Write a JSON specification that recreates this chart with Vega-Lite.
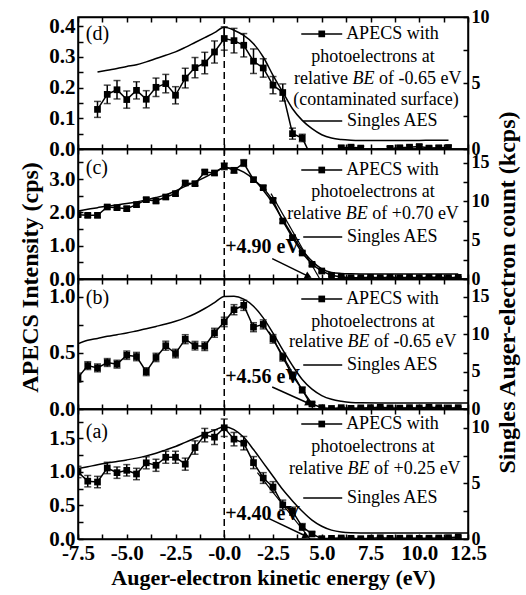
{
"$schema": "https://vega.github.io/schema/vega-lite/v6.json",
"background": "white",
"padding": {"left": 18, "top": 7, "right": 4, "bottom": 4},
"spacing": 0,
"bounds": "flush",
"config": {
  "font": "Liberation Serif",
  "view": {"stroke": "black", "strokeWidth": 1.5},
  "mark": {"font": "Liberation Serif"},
  "axis": {"grid": false, "domainColor": "black", "domainWidth": 1.5, "tickColor": "black", "tickWidth": 1.5, "tickSize": -5, "tickCount": 40,
    "labelFont": "Liberation Serif", "labelFontWeight": "bold", "labelFontSize": 21, "labelColor": "black", "labelPadding": 8,
    "labelFlush": false, "labelOverlap": false, "titleFont": "Liberation Serif", "titleFontWeight": "bold", "titleFontSize": 24, "titleColor": "black", "titlePadding": 6},
  "text": {"font": "Liberation Serif", "color": "black", "fontSize": 18, "baseline": "middle"}
},
"datasets": {
"apecs": [
{"panel":"d","x":-6.5,"v":0.129,"e":0.026},{"panel":"d","x":-6.0,"v":0.178,"e":0.03},{"panel":"d","x":-5.5,"v":0.193,"e":0.03},{"panel":"d","x":-5.0,"v":0.161,"e":0.028},{"panel":"d","x":-4.5,"v":0.191,"e":0.028},{"panel":"d","x":-4.0,"v":0.162,"e":0.028},{"panel":"d","x":-3.5,"v":0.201,"e":0.03},{"panel":"d","x":-3.0,"v":0.213,"e":0.03},{"panel":"d","x":-2.5,"v":0.175,"e":0.028},{"panel":"d","x":-2.0,"v":0.231,"e":0.032},{"panel":"d","x":-1.5,"v":0.265,"e":0.033},{"panel":"d","x":-1.0,"v":0.28,"e":0.035},{"panel":"d","x":-0.5,"v":0.316,"e":0.036},{"panel":"d","x":0.0,"v":0.36,"e":0.038},{"panel":"d","x":0.5,"v":0.353,"e":0.04},{"panel":"d","x":1.0,"v":0.338,"e":0.038},{"panel":"d","x":1.5,"v":0.286,"e":0.04},{"panel":"d","x":2.0,"v":0.264,"e":0.03},{"panel":"d","x":2.5,"v":0.208,"e":0.028},{"panel":"d","x":3.0,"v":0.184,"e":0.028},{"panel":"d","x":3.5,"v":0.05,"e":0.018},{"panel":"d","x":4.0,"v":0.036,"e":0.012},{"panel":"d","x":4.5,"v":-0.03,"e":0.01},{"panel":"d","x":5.0,"v":-0.025,"e":0.01},{"panel":"d","x":5.5,"v":-0.01,"e":0.006},{"panel":"d","x":6.0,"v":0.004,"e":0.006},{"panel":"d","x":6.5,"v":0.006,"e":0.006},{"panel":"d","x":7.0,"v":0.003,"e":0.006},{"panel":"d","x":7.5,"v":-0.01,"e":0.006},{"panel":"d","x":8.0,"v":-0.008,"e":0.006},{"panel":"d","x":8.5,"v":0.002,"e":0.006},{"panel":"d","x":9.0,"v":0.004,"e":0.006},{"panel":"d","x":9.5,"v":0.006,"e":0.006},{"panel":"d","x":10.0,"v":0.008,"e":0.006},{"panel":"d","x":10.5,"v":0.003,"e":0.006},{"panel":"d","x":11.0,"v":0.004,"e":0.006},{"panel":"d","x":11.5,"v":0.005,"e":0.006},
{"panel":"c","x":-7.5,"v":1.93,"e":0.06},{"panel":"c","x":-7.0,"v":1.91,"e":0.06},{"panel":"c","x":-6.5,"v":1.91,"e":0.06},{"panel":"c","x":-6.0,"v":2.16,"e":0.06},{"panel":"c","x":-5.5,"v":2.14,"e":0.06},{"panel":"c","x":-5.0,"v":2.11,"e":0.06},{"panel":"c","x":-4.5,"v":2.23,"e":0.06},{"panel":"c","x":-4.0,"v":2.38,"e":0.06},{"panel":"c","x":-3.5,"v":2.34,"e":0.06},{"panel":"c","x":-3.0,"v":2.46,"e":0.06},{"panel":"c","x":-2.5,"v":2.56,"e":0.06},{"panel":"c","x":-2.0,"v":2.88,"e":0.06},{"panel":"c","x":-1.5,"v":2.86,"e":0.06},{"panel":"c","x":-1.0,"v":3.21,"e":0.06},{"panel":"c","x":-0.5,"v":3.18,"e":0.06},{"panel":"c","x":0.0,"v":3.38,"e":0.1},{"panel":"c","x":0.5,"v":3.26,"e":0.08},{"panel":"c","x":1.0,"v":3.48,"e":0.1},{"panel":"c","x":1.5,"v":2.98,"e":0.06},{"panel":"c","x":2.0,"v":2.74,"e":0.06},{"panel":"c","x":2.5,"v":2.36,"e":0.06},{"panel":"c","x":3.0,"v":1.74,"e":0.06},{"panel":"c","x":3.5,"v":1.24,"e":0.06},{"panel":"c","x":4.0,"v":0.78,"e":0.05},{"panel":"c","x":4.5,"v":0.44,"e":0.05},{"panel":"c","x":5.0,"v":0.24,"e":0.04},{"panel":"c","x":5.5,"v":0.11,"e":0.03},{"panel":"c","x":6.0,"v":0.06,"e":0.02},{"panel":"c","x":6.5,"v":0.04,"e":0.02},{"panel":"c","x":7.0,"v":0.04,"e":0.02},{"panel":"c","x":7.5,"v":0.05,"e":0.02},{"panel":"c","x":8.0,"v":0.04,"e":0.02},{"panel":"c","x":8.5,"v":0.05,"e":0.02},{"panel":"c","x":9.0,"v":0.04,"e":0.02},{"panel":"c","x":9.5,"v":0.05,"e":0.02},{"panel":"c","x":10.0,"v":0.04,"e":0.02},{"panel":"c","x":10.5,"v":0.05,"e":0.02},{"panel":"c","x":11.0,"v":0.05,"e":0.02},{"panel":"c","x":11.5,"v":0.04,"e":0.02},{"panel":"c","x":12.0,"v":0.05,"e":0.02},
{"panel":"b","x":-7.5,"v":0.28,"e":0.04},{"panel":"b","x":-7.0,"v":0.387,"e":0.035},{"panel":"b","x":-6.5,"v":0.367,"e":0.035},{"panel":"b","x":-6.0,"v":0.415,"e":0.035},{"panel":"b","x":-5.5,"v":0.4,"e":0.035},{"panel":"b","x":-5.0,"v":0.48,"e":0.037},{"panel":"b","x":-4.5,"v":0.468,"e":0.037},{"panel":"b","x":-4.0,"v":0.333,"e":0.035},{"panel":"b","x":-3.5,"v":0.46,"e":0.037},{"panel":"b","x":-3.0,"v":0.565,"e":0.04},{"panel":"b","x":-2.5,"v":0.495,"e":0.038},{"panel":"b","x":-2.0,"v":0.623,"e":0.04},{"panel":"b","x":-1.5,"v":0.565,"e":0.038},{"panel":"b","x":-1.0,"v":0.56,"e":0.038},{"panel":"b","x":-0.5,"v":0.68,"e":0.04},{"panel":"b","x":0.0,"v":0.777,"e":0.042},{"panel":"b","x":0.5,"v":0.886,"e":0.045},{"panel":"b","x":1.0,"v":0.925,"e":0.045},{"panel":"b","x":1.5,"v":0.73,"e":0.04},{"panel":"b","x":2.0,"v":0.755,"e":0.04},{"panel":"b","x":2.5,"v":0.626,"e":0.038},{"panel":"b","x":3.0,"v":0.463,"e":0.035},{"panel":"b","x":3.5,"v":0.3,"e":0.03},{"panel":"b","x":4.0,"v":0.17,"e":0.025},{"panel":"b","x":4.5,"v":0.045,"e":0.015},{"panel":"b","x":5.0,"v":0.012,"e":0.01},{"panel":"b","x":5.5,"v":0.005,"e":0.008},{"panel":"b","x":6.0,"v":0.012,"e":0.008},{"panel":"b","x":6.5,"v":0.006,"e":0.008},{"panel":"b","x":7.0,"v":0.01,"e":0.008},{"panel":"b","x":7.5,"v":0.012,"e":0.008},{"panel":"b","x":8.0,"v":0.015,"e":0.008},{"panel":"b","x":8.5,"v":0.01,"e":0.008},{"panel":"b","x":9.0,"v":0.008,"e":0.008},{"panel":"b","x":9.5,"v":0.012,"e":0.008},{"panel":"b","x":10.0,"v":0.01,"e":0.008},{"panel":"b","x":10.5,"v":0.015,"e":0.008},{"panel":"b","x":11.0,"v":0.012,"e":0.008},{"panel":"b","x":11.5,"v":0.01,"e":0.008},{"panel":"b","x":12.0,"v":0.012,"e":0.008},
{"panel":"a","x":-7.5,"v":1.0,"e":0.085},{"panel":"a","x":-7.0,"v":0.863,"e":0.085},{"panel":"a","x":-6.5,"v":0.85,"e":0.085},{"panel":"a","x":-6.0,"v":1.06,"e":0.085},{"panel":"a","x":-5.5,"v":0.99,"e":0.085},{"panel":"a","x":-5.0,"v":1.025,"e":0.085},{"panel":"a","x":-4.5,"v":0.97,"e":0.085},{"panel":"a","x":-4.0,"v":1.137,"e":0.09},{"panel":"a","x":-3.5,"v":1.1,"e":0.09},{"panel":"a","x":-3.0,"v":1.22,"e":0.09},{"panel":"a","x":-2.5,"v":1.22,"e":0.09},{"panel":"a","x":-2.0,"v":1.117,"e":0.09},{"panel":"a","x":-1.5,"v":1.365,"e":0.1},{"panel":"a","x":-1.0,"v":1.55,"e":0.1},{"panel":"a","x":-0.5,"v":1.52,"e":0.11},{"panel":"a","x":0.0,"v":1.66,"e":0.13},{"panel":"a","x":0.5,"v":1.49,"e":0.1},{"panel":"a","x":1.0,"v":1.43,"e":0.1},{"panel":"a","x":1.5,"v":1.14,"e":0.09},{"panel":"a","x":2.0,"v":0.91,"e":0.08},{"panel":"a","x":2.5,"v":0.776,"e":0.08},{"panel":"a","x":3.0,"v":0.51,"e":0.07},{"panel":"a","x":3.5,"v":0.415,"e":0.06},{"panel":"a","x":4.0,"v":0.18,"e":0.05},{"panel":"a","x":4.5,"v":0.075,"e":0.03},{"panel":"a","x":5.0,"v":0.005,"e":0.02},{"panel":"a","x":5.5,"v":0.01,"e":0.015},{"panel":"a","x":6.0,"v":0.015,"e":0.015},{"panel":"a","x":6.5,"v":0.01,"e":0.015},{"panel":"a","x":7.0,"v":0.005,"e":0.015},{"panel":"a","x":7.5,"v":0.012,"e":0.015},{"panel":"a","x":8.0,"v":0.018,"e":0.015},{"panel":"a","x":8.5,"v":0.01,"e":0.015},{"panel":"a","x":9.0,"v":0.012,"e":0.015},{"panel":"a","x":9.5,"v":0.015,"e":0.015},{"panel":"a","x":10.0,"v":0.01,"e":0.015},{"panel":"a","x":10.5,"v":0.012,"e":0.015},{"panel":"a","x":11.0,"v":0.015,"e":0.015},{"panel":"a","x":11.5,"v":0.02,"e":0.015},{"panel":"a","x":12.0,"v":0.03,"e":0.015}
],
"aes": [
{"panel":"d","x":-6.5,"k":5.83},{"panel":"d","x":-6.0,"k":5.97},{"panel":"d","x":-5.5,"k":6.1},{"panel":"d","x":-5.0,"k":6.25},{"panel":"d","x":-4.5,"k":6.38},{"panel":"d","x":-4.0,"k":6.6},{"panel":"d","x":-3.5,"k":6.85},{"panel":"d","x":-3.0,"k":7.1},{"panel":"d","x":-2.5,"k":7.36},{"panel":"d","x":-2.0,"k":7.7},{"panel":"d","x":-1.5,"k":8.07},{"panel":"d","x":-1.0,"k":8.44},{"panel":"d","x":-0.5,"k":8.81},{"panel":"d","x":0.0,"k":9.22},{"panel":"d","x":0.5,"k":9.0},{"panel":"d","x":1.0,"k":8.6},{"panel":"d","x":1.5,"k":7.98},{"panel":"d","x":2.0,"k":6.97},{"panel":"d","x":2.5,"k":5.58},{"panel":"d","x":3.0,"k":4.32},{"panel":"d","x":3.5,"k":3.05},{"panel":"d","x":4.0,"k":2.17},{"panel":"d","x":4.5,"k":1.54},{"panel":"d","x":5.0,"k":1.08},{"panel":"d","x":5.5,"k":0.83},{"panel":"d","x":6.0,"k":0.72},{"panel":"d","x":6.5,"k":0.67},{"panel":"d","x":7.0,"k":0.65},{"panel":"d","x":8.0,"k":0.64},{"panel":"d","x":9.0,"k":0.64},{"panel":"d","x":10.0,"k":0.65},{"panel":"d","x":11.0,"k":0.66},{"panel":"d","x":11.5,"k":0.66},
{"panel":"c","x":-7.5,"k":8.75},{"panel":"c","x":-7.0,"k":9.0},{"panel":"c","x":-6.5,"k":9.2},{"panel":"c","x":-6.0,"k":9.4},{"panel":"c","x":-5.5,"k":9.55},{"panel":"c","x":-5.0,"k":9.72},{"panel":"c","x":-4.5,"k":9.93},{"panel":"c","x":-4.0,"k":10.2},{"panel":"c","x":-3.5,"k":10.5},{"panel":"c","x":-3.0,"k":10.85},{"panel":"c","x":-2.5,"k":11.35},{"panel":"c","x":-2.0,"k":11.95},{"panel":"c","x":-1.5,"k":12.5},{"panel":"c","x":-1.0,"k":13.1},{"panel":"c","x":-0.5,"k":13.75},{"panel":"c","x":0.0,"k":14.35},{"panel":"c","x":0.5,"k":14.25},{"panel":"c","x":1.0,"k":13.78},{"panel":"c","x":1.5,"k":12.85},{"panel":"c","x":2.0,"k":11.45},{"panel":"c","x":2.5,"k":9.75},{"panel":"c","x":3.0,"k":7.65},{"panel":"c","x":3.5,"k":5.6},{"panel":"c","x":4.0,"k":3.75},{"panel":"c","x":4.5,"k":2.3},{"panel":"c","x":5.0,"k":1.3},{"panel":"c","x":5.5,"k":0.85},{"panel":"c","x":6.0,"k":0.72},{"panel":"c","x":6.5,"k":0.67},{"panel":"c","x":7.0,"k":0.65},{"panel":"c","x":8.0,"k":0.65},{"panel":"c","x":9.0,"k":0.65},{"panel":"c","x":10.0,"k":0.65},{"panel":"c","x":11.0,"k":0.65},{"panel":"c","x":12.0,"k":0.65},
{"panel":"b","x":-7.5,"k":8.74},{"panel":"b","x":-7.0,"k":9.19},{"panel":"b","x":-6.5,"k":9.45},{"panel":"b","x":-6.0,"k":9.73},{"panel":"b","x":-5.5,"k":9.95},{"panel":"b","x":-5.0,"k":10.17},{"panel":"b","x":-4.5,"k":10.45},{"panel":"b","x":-4.0,"k":10.73},{"panel":"b","x":-3.5,"k":11.05},{"panel":"b","x":-3.0,"k":11.38},{"panel":"b","x":-2.5,"k":11.75},{"panel":"b","x":-2.0,"k":12.2},{"panel":"b","x":-1.5,"k":12.75},{"panel":"b","x":-1.0,"k":13.45},{"panel":"b","x":-0.5,"k":14.25},{"panel":"b","x":0.0,"k":15.05},{"panel":"b","x":0.5,"k":15.08},{"panel":"b","x":1.0,"k":14.7},{"panel":"b","x":1.5,"k":13.75},{"panel":"b","x":2.0,"k":12.2},{"panel":"b","x":2.5,"k":10.15},{"panel":"b","x":3.0,"k":7.9},{"panel":"b","x":3.5,"k":5.8},{"panel":"b","x":4.0,"k":3.95},{"panel":"b","x":4.5,"k":2.65},{"panel":"b","x":5.0,"k":1.8},{"panel":"b","x":5.5,"k":1.3},{"panel":"b","x":6.0,"k":1.03},{"panel":"b","x":6.5,"k":0.87},{"panel":"b","x":7.0,"k":0.82},{"panel":"b","x":8.0,"k":0.8},{"panel":"b","x":9.0,"k":0.8},{"panel":"b","x":10.0,"k":0.8},{"panel":"b","x":11.0,"k":0.8},{"panel":"b","x":12.0,"k":0.8},{"panel":"b","x":12.5,"k":0.8},
{"panel":"a","x":-7.5,"k":6.33},{"panel":"a","x":-7.0,"k":6.5},{"panel":"a","x":-6.5,"k":6.68},{"panel":"a","x":-6.0,"k":6.84},{"panel":"a","x":-5.5,"k":6.98},{"panel":"a","x":-5.0,"k":7.12},{"panel":"a","x":-4.5,"k":7.28},{"panel":"a","x":-4.0,"k":7.48},{"panel":"a","x":-3.5,"k":7.72},{"panel":"a","x":-3.0,"k":8.02},{"panel":"a","x":-2.5,"k":8.33},{"panel":"a","x":-2.0,"k":8.7},{"panel":"a","x":-1.5,"k":9.07},{"panel":"a","x":-1.0,"k":9.45},{"panel":"a","x":-0.5,"k":9.8},{"panel":"a","x":0.0,"k":10.1},{"panel":"a","x":0.5,"k":9.85},{"panel":"a","x":1.0,"k":9.15},{"panel":"a","x":1.5,"k":8.05},{"panel":"a","x":2.0,"k":6.85},{"panel":"a","x":2.5,"k":5.65},{"panel":"a","x":3.0,"k":4.45},{"panel":"a","x":3.5,"k":3.43},{"panel":"a","x":4.0,"k":2.5},{"panel":"a","x":4.5,"k":1.7},{"panel":"a","x":5.0,"k":1.15},{"panel":"a","x":5.5,"k":0.8},{"panel":"a","x":6.0,"k":0.62},{"panel":"a","x":6.5,"k":0.56},{"panel":"a","x":7.0,"k":0.55},{"panel":"a","x":8.0,"k":0.55},{"panel":"a","x":9.0,"k":0.55},{"panel":"a","x":10.0,"k":0.55},{"panel":"a","x":11.0,"k":0.55},{"panel":"a","x":12.0,"k":0.55},{"panel":"a","x":12.5,"k":0.55}
]
},
"vconcat": [
{
 "width": 390, "height": 132,
 "layer": [
  {"layer": [
   {"data": {"values": [{}]}, "mark": {"type": "rule", "strokeDash": [7, 4], "strokeWidth": 1.5, "color": "black"}, "encoding": {"x": {"datum": 0, "type": "quantitative", "scale": {"domain": [-7.5, 12.5], "nice": false, "zero": false}, "axis": {"orient": "bottom", "tickCount": 40, "values": [-7.5,-6.25,-5,-3.75,-2.5,-1.25,0,1.25,2.5,3.75,5,6.25,7.5,8.75,10,11.25,12.5], "labels": false, "title": null}}}},
   {"data": {"name": "apecs"}, "transform": [{"filter": "datum.panel == 'd'"}], "mark": {"type": "line", "color": "black", "strokeWidth": 1.5, "clip": true}, "encoding": {"x": {"field": "x", "type": "quantitative"}, "y": {"field": "v", "type": "quantitative", "scale": {"domain": [0, 0.43], "nice": false, "zero": false}, "axis": {"orient": "left", "tickCount": 40, "values": [0,0.05,0.1,0.15,0.2,0.25,0.3,0.35,0.4], "labelOverlap": false, "labelExpr": "round(datum.value*20) % 2 == 0 ? format(datum.value, '.1f') : ''", "title": null}}}},
   {"data": {"name": "apecs"}, "transform": [{"filter": "datum.panel == 'd'"}], "mark": {"type": "errorbar", "ticks": true, "color": "black", "thickness": 1.5, "size": 7, "clip": true}, "encoding": {"x": {"field": "x", "type": "quantitative"}, "y": {"field": "v", "type": "quantitative"}, "yError": {"field": "e"}}},
   {"data": {"name": "apecs"}, "transform": [{"filter": "datum.panel == 'd'"}], "mark": {"type": "point", "shape": "square", "filled": true, "size": 45, "color": "black", "opacity": 1, "clip": true}, "encoding": {"x": {"field": "x", "type": "quantitative"}, "y": {"field": "v", "type": "quantitative"}}},
   {"data": {"values": [{}]}, "mark": {"type": "rule", "color": "black", "strokeWidth": 1.5}, "encoding": {"x": {"datum": 3.95, "type": "quantitative"}, "x2": {"datum": 6.05}, "y": {"datum": 0.375, "type": "quantitative"}}},
   {"data": {"values": [{}]}, "mark": {"type": "point", "shape": "square", "filled": true, "size": 45, "color": "black", "opacity": 1}, "encoding": {"x": {"datum": 5.0, "type": "quantitative"}, "y": {"datum": 0.375, "type": "quantitative"}}},
   {"data": {"values": [{}]}, "mark": {"type": "rule", "color": "black", "strokeWidth": 1.5}, "encoding": {"x": {"datum": 4.05, "type": "quantitative"}, "x2": {"datum": 6.05}, "y": {"datum": 0.091, "type": "quantitative"}}},
   {"data": {"values": [{}]}, "mark": {"type": "text", "font": "Liberation Serif", "text": "(d)", "align": "left", "fontSize": 20}, "encoding": {"x": {"datum": -7.1, "type": "quantitative"}, "y": {"datum": 0.375, "type": "quantitative"}}},
   {"data": {"values": [{}]}, "mark": {"type": "text", "font": "Liberation Serif", "text": "APECS with", "align": "left"}, "encoding": {"x": {"datum": 6.25, "type": "quantitative"}, "y": {"datum": 0.375, "type": "quantitative"}}},
   {"data": {"values": [{}]}, "mark": {"type": "text", "font": "Liberation Serif", "text": "photoelectrons at", "align": "center"}, "encoding": {"x": {"datum": 7.63, "type": "quantitative"}, "y": {"datum": 0.3, "type": "quantitative"}}},
   {"data": {"values": [{}]}, "mark": {"type": "text", "font": "Liberation Serif", "text": "relative", "align": "left"}, "encoding": {"x": {"datum": 3.58, "type": "quantitative"}, "y": {"datum": 0.228, "type": "quantitative"}}},
   {"data": {"values": [{}]}, "mark": {"type": "text", "font": "Liberation Serif", "text": "BE", "align": "left", "fontStyle": "italic", "dx": 58.5}, "encoding": {"x": {"datum": 3.58, "type": "quantitative"}, "y": {"datum": 0.228, "type": "quantitative"}}},
   {"data": {"values": [{}]}, "mark": {"type": "text", "font": "Liberation Serif", "text": "of -0.65 eV", "align": "left", "dx": 85}, "encoding": {"x": {"datum": 3.58, "type": "quantitative"}, "y": {"datum": 0.228, "type": "quantitative"}}},
   {"data": {"values": [{}]}, "mark": {"type": "text", "font": "Liberation Serif", "text": "(contaminated surface)", "align": "center"}, "encoding": {"x": {"datum": 7.78, "type": "quantitative"}, "y": {"datum": 0.16, "type": "quantitative"}}},
   {"data": {"values": [{}]}, "mark": {"type": "text", "font": "Liberation Serif", "text": "Singles AES", "align": "left"}, "encoding": {"x": {"datum": 6.3, "type": "quantitative"}, "y": {"datum": 0.091, "type": "quantitative"}}}
  ]},
  {"data": {"name": "aes"}, "transform": [{"filter": "datum.panel == 'd'"}], "mark": {"type": "line", "color": "black", "strokeWidth": 1.5, "interpolate": "monotone", "clip": true}, "encoding": {"x": {"field": "x", "type": "quantitative", "scale": {"domain": [-7.5, 12.5], "nice": false, "zero": false}, "axis": {"orient": "top", "tickCount": 40, "values": [-7.5,-6.25,-5,-3.75,-2.5,-1.25,0,1.25,2.5,3.75,5,6.25,7.5,8.75,10,11.25,12.5], "labels": false, "title": null}}, "y": {"field": "k", "type": "quantitative", "scale": {"domain": [0, 10], "nice": false, "zero": false}, "axis": {"orient": "right", "tickCount": 40, "values": [0,2.5,5,7.5,10], "labelFontSize": 18, "labelOverlap": false, "labelExpr": "round(datum.value/2.5) % 2 == 0 ? format(datum.value, 'd') : ''", "title": null}}}}
 ],
 "resolve": {"scale": {"y": "independent"}, "axis": {"x": "independent"}}
},
{
 "width": 390, "height": 130,
 "layer": [
  {"layer": [
   {"data": {"values": [{}]}, "mark": {"type": "rule", "strokeDash": [7, 4], "strokeWidth": 1.5, "color": "black"}, "encoding": {"x": {"datum": 0, "type": "quantitative", "scale": {"domain": [-7.5, 12.5], "nice": false, "zero": false}, "axis": {"orient": "bottom", "tickCount": 40, "values": [-7.5,-6.25,-5,-3.75,-2.5,-1.25,0,1.25,2.5,3.75,5,6.25,7.5,8.75,10,11.25,12.5], "labels": false, "title": null}}}},
   {"data": {"name": "apecs"}, "transform": [{"filter": "datum.panel == 'c'"}], "mark": {"type": "line", "color": "black", "strokeWidth": 1.5, "clip": true}, "encoding": {"x": {"field": "x", "type": "quantitative"}, "y": {"field": "v", "type": "quantitative", "title": "APECS Intensity (cps)", "scale": {"domain": [0, 3.9], "nice": false, "zero": false}, "axis": {"orient": "left", "tickCount": 40, "values": [0,0.5,1,1.5,2,2.5,3,3.5], "labelOverlap": false, "labelExpr": "round(datum.value*2) % 2 == 0 ? format(datum.value, '.1f') : ''", "title": "APECS Intensity (cps)", "titleY": 128}}}},
   {"data": {"name": "apecs"}, "transform": [{"filter": "datum.panel == 'c'"}], "mark": {"type": "errorbar", "ticks": true, "color": "black", "thickness": 1.5, "size": 7, "clip": true}, "encoding": {"x": {"field": "x", "type": "quantitative"}, "y": {"field": "v", "type": "quantitative", "title": "APECS Intensity (cps)"}, "yError": {"field": "e"}}},
   {"data": {"name": "apecs"}, "transform": [{"filter": "datum.panel == 'c'"}], "mark": {"type": "point", "shape": "square", "filled": true, "size": 45, "color": "black", "opacity": 1, "clip": true}, "encoding": {"x": {"field": "x", "type": "quantitative"}, "y": {"field": "v", "type": "quantitative", "title": "APECS Intensity (cps)"}}},
   {"data": {"values": [{}]}, "mark": {"type": "rule", "color": "black", "strokeWidth": 1.2}, "encoding": {"x": {"datum": 2.4, "type": "quantitative"}, "x2": {"datum": 4.9}, "y": {"datum": 2.56, "type": "quantitative"}, "y2": {"datum": 0}}},
   {"data": {"values": [{}]}, "mark": {"type": "rule", "color": "black", "strokeWidth": 1.5}, "encoding": {"x": {"datum": 2.46, "type": "quantitative"}, "x2": {"datum": 4.32}, "y": {"datum": 0.61, "type": "quantitative"}, "y2": {"datum": 0.08}}},
   {"data": {"values": [{}]}, "mark": {"type": "point", "shape": "triangle-right", "angle": 26, "filled": true, "size": 60, "color": "black", "opacity": 1}, "encoding": {"x": {"datum": 4.32, "type": "quantitative"}, "y": {"datum": 0.08, "type": "quantitative"}}},
   {"data": {"values": [{}]}, "mark": {"type": "text", "font": "Liberation Serif", "text": "+4.90 eV", "align": "left", "fontSize": 20, "fontWeight": "bold"}, "encoding": {"x": {"datum": 0.05, "type": "quantitative"}, "y": {"datum": 0.96, "type": "quantitative"}}},
   {"data": {"values": [{}]}, "mark": {"type": "rule", "color": "black", "strokeWidth": 1.5}, "encoding": {"x": {"datum": 3.95, "type": "quantitative"}, "x2": {"datum": 6.05}, "y": {"datum": 3.27, "type": "quantitative"}}},
   {"data": {"values": [{}]}, "mark": {"type": "point", "shape": "square", "filled": true, "size": 45, "color": "black", "opacity": 1}, "encoding": {"x": {"datum": 5.0, "type": "quantitative"}, "y": {"datum": 3.27, "type": "quantitative"}}},
   {"data": {"values": [{}]}, "mark": {"type": "rule", "color": "black", "strokeWidth": 1.5}, "encoding": {"x": {"datum": 4.05, "type": "quantitative"}, "x2": {"datum": 6.05}, "y": {"datum": 1.26, "type": "quantitative"}}},
   {"data": {"values": [{}]}, "mark": {"type": "text", "font": "Liberation Serif", "text": "(c)", "align": "left", "fontSize": 20}, "encoding": {"x": {"datum": -7.1, "type": "quantitative"}, "y": {"datum": 3.33, "type": "quantitative"}}},
   {"data": {"values": [{}]}, "mark": {"type": "text", "font": "Liberation Serif", "text": "APECS with", "align": "left"}, "encoding": {"x": {"datum": 6.25, "type": "quantitative"}, "y": {"datum": 3.27, "type": "quantitative"}}},
   {"data": {"values": [{}]}, "mark": {"type": "text", "font": "Liberation Serif", "text": "photoelectrons at", "align": "center"}, "encoding": {"x": {"datum": 7.63, "type": "quantitative"}, "y": {"datum": 2.61, "type": "quantitative"}}},
   {"data": {"values": [{}]}, "mark": {"type": "text", "font": "Liberation Serif", "text": "relative", "align": "left"}, "encoding": {"x": {"datum": 3.23, "type": "quantitative"}, "y": {"datum": 1.95, "type": "quantitative"}}},
   {"data": {"values": [{}]}, "mark": {"type": "text", "font": "Liberation Serif", "text": "BE", "align": "left", "fontStyle": "italic", "dx": 58.5}, "encoding": {"x": {"datum": 3.23, "type": "quantitative"}, "y": {"datum": 1.95, "type": "quantitative"}}},
   {"data": {"values": [{}]}, "mark": {"type": "text", "font": "Liberation Serif", "text": "of +0.70 eV", "align": "left", "dx": 85}, "encoding": {"x": {"datum": 3.23, "type": "quantitative"}, "y": {"datum": 1.95, "type": "quantitative"}}},
   {"data": {"values": [{}]}, "mark": {"type": "text", "font": "Liberation Serif", "text": "Singles AES", "align": "left"}, "encoding": {"x": {"datum": 6.3, "type": "quantitative"}, "y": {"datum": 1.26, "type": "quantitative"}}}
  ]},
  {"data": {"name": "aes"}, "transform": [{"filter": "datum.panel == 'c'"}], "mark": {"type": "line", "color": "black", "strokeWidth": 1.5, "interpolate": "monotone", "clip": true}, "encoding": {"x": {"field": "x", "type": "quantitative", "scale": {"domain": [-7.5, 12.5], "nice": false, "zero": false}, "axis": {"orient": "top", "tickCount": 40, "values": [-7.5,-6.25,-5,-3.75,-2.5,-1.25,0,1.25,2.5,3.75,5,6.25,7.5,8.75,10,11.25,12.5], "labels": false, "title": null}}, "y": {"field": "k", "type": "quantitative", "scale": {"domain": [0, 16.76], "nice": false, "zero": false}, "axis": {"orient": "right", "tickCount": 40, "values": [0,2.5,5,7.5,10,12.5,15], "labelFontSize": 18, "labelOverlap": false, "labelExpr": "round(datum.value/2.5) % 2 == 0 ? format(datum.value, 'd') : ''", "title": "Singles Auger-electron count (kcps)", "titleY": 143, "titleAngle": 270, "titleBaseline": "top"}}}}
 ],
 "resolve": {"scale": {"y": "independent"}, "axis": {"x": "independent"}}
},
{
 "width": 390, "height": 130,
 "layer": [
  {"layer": [
   {"data": {"values": [{}]}, "mark": {"type": "rule", "strokeDash": [7, 4], "strokeWidth": 1.5, "color": "black"}, "encoding": {"x": {"datum": 0, "type": "quantitative", "scale": {"domain": [-7.5, 12.5], "nice": false, "zero": false}, "axis": {"orient": "bottom", "tickCount": 40, "values": [-7.5,-6.25,-5,-3.75,-2.5,-1.25,0,1.25,2.5,3.75,5,6.25,7.5,8.75,10,11.25,12.5], "labels": false, "title": null}}}},
   {"data": {"name": "apecs"}, "transform": [{"filter": "datum.panel == 'b'"}], "mark": {"type": "line", "color": "black", "strokeWidth": 1.5, "clip": true}, "encoding": {"x": {"field": "x", "type": "quantitative"}, "y": {"field": "v", "type": "quantitative", "scale": {"domain": [0, 1.16], "nice": false, "zero": false}, "axis": {"orient": "left", "tickCount": 40, "values": [0,0.25,0.5,0.75,1], "labelOverlap": false, "labelExpr": "round(datum.value*4) % 2 == 0 ? format(datum.value, '.1f') : ''", "title": null}}}},
   {"data": {"name": "apecs"}, "transform": [{"filter": "datum.panel == 'b'"}], "mark": {"type": "errorbar", "ticks": true, "color": "black", "thickness": 1.5, "size": 7, "clip": true}, "encoding": {"x": {"field": "x", "type": "quantitative"}, "y": {"field": "v", "type": "quantitative"}, "yError": {"field": "e"}}},
   {"data": {"name": "apecs"}, "transform": [{"filter": "datum.panel == 'b'"}], "mark": {"type": "point", "shape": "square", "filled": true, "size": 45, "color": "black", "opacity": 1, "clip": true}, "encoding": {"x": {"field": "x", "type": "quantitative"}, "y": {"field": "v", "type": "quantitative"}}},
   {"data": {"values": [{}]}, "mark": {"type": "rule", "color": "black", "strokeWidth": 1.2}, "encoding": {"x": {"datum": 2.3, "type": "quantitative"}, "x2": {"datum": 4.56}, "y": {"datum": 0.69, "type": "quantitative"}, "y2": {"datum": 0}}},
   {"data": {"values": [{}]}, "mark": {"type": "rule", "color": "black", "strokeWidth": 1.5}, "encoding": {"x": {"datum": 2.46, "type": "quantitative"}, "x2": {"datum": 4.34}, "y": {"datum": 0.196, "type": "quantitative"}, "y2": {"datum": 0.049}}},
   {"data": {"values": [{}]}, "mark": {"type": "point", "shape": "triangle-right", "angle": 25, "filled": true, "size": 60, "color": "black", "opacity": 1}, "encoding": {"x": {"datum": 4.34, "type": "quantitative"}, "y": {"datum": 0.049, "type": "quantitative"}}},
   {"data": {"values": [{}]}, "mark": {"type": "text", "font": "Liberation Serif", "text": "+4.56 eV", "align": "left", "fontSize": 20, "fontWeight": "bold"}, "encoding": {"x": {"datum": 0.05, "type": "quantitative"}, "y": {"datum": 0.285, "type": "quantitative"}}},
   {"data": {"values": [{}]}, "mark": {"type": "rule", "color": "black", "strokeWidth": 1.5}, "encoding": {"x": {"datum": 3.95, "type": "quantitative"}, "x2": {"datum": 6.05}, "y": {"datum": 0.982, "type": "quantitative"}}},
   {"data": {"values": [{}]}, "mark": {"type": "point", "shape": "square", "filled": true, "size": 45, "color": "black", "opacity": 1}, "encoding": {"x": {"datum": 5.0, "type": "quantitative"}, "y": {"datum": 0.982, "type": "quantitative"}}},
   {"data": {"values": [{}]}, "mark": {"type": "rule", "color": "black", "strokeWidth": 1.5}, "encoding": {"x": {"datum": 4.05, "type": "quantitative"}, "x2": {"datum": 6.05}, "y": {"datum": 0.392, "type": "quantitative"}}},
   {"data": {"values": [{}]}, "mark": {"type": "text", "font": "Liberation Serif", "text": "(b)", "align": "left", "fontSize": 20}, "encoding": {"x": {"datum": -7.1, "type": "quantitative"}, "y": {"datum": 0.99, "type": "quantitative"}}},
   {"data": {"values": [{}]}, "mark": {"type": "text", "font": "Liberation Serif", "text": "APECS with", "align": "left"}, "encoding": {"x": {"datum": 6.25, "type": "quantitative"}, "y": {"datum": 0.982, "type": "quantitative"}}},
   {"data": {"values": [{}]}, "mark": {"type": "text", "font": "Liberation Serif", "text": "photoelectrons at", "align": "center"}, "encoding": {"x": {"datum": 7.63, "type": "quantitative"}, "y": {"datum": 0.775, "type": "quantitative"}}},
   {"data": {"values": [{}]}, "mark": {"type": "text", "font": "Liberation Serif", "text": "relative", "align": "left"}, "encoding": {"x": {"datum": 3.32, "type": "quantitative"}, "y": {"datum": 0.597, "type": "quantitative"}}},
   {"data": {"values": [{}]}, "mark": {"type": "text", "font": "Liberation Serif", "text": "BE", "align": "left", "fontStyle": "italic", "dx": 58.5}, "encoding": {"x": {"datum": 3.32, "type": "quantitative"}, "y": {"datum": 0.597, "type": "quantitative"}}},
   {"data": {"values": [{}]}, "mark": {"type": "text", "font": "Liberation Serif", "text": "of -0.65 eV", "align": "left", "dx": 85}, "encoding": {"x": {"datum": 3.32, "type": "quantitative"}, "y": {"datum": 0.597, "type": "quantitative"}}},
   {"data": {"values": [{}]}, "mark": {"type": "text", "font": "Liberation Serif", "text": "Singles AES", "align": "left"}, "encoding": {"x": {"datum": 6.3, "type": "quantitative"}, "y": {"datum": 0.392, "type": "quantitative"}}}
  ]},
  {"data": {"name": "aes"}, "transform": [{"filter": "datum.panel == 'b'"}], "mark": {"type": "line", "color": "black", "strokeWidth": 1.5, "interpolate": "monotone", "clip": true}, "encoding": {"x": {"field": "x", "type": "quantitative", "scale": {"domain": [-7.5, 12.5], "nice": false, "zero": false}, "axis": {"orient": "top", "tickCount": 40, "values": [-7.5,-6.25,-5,-3.75,-2.5,-1.25,0,1.25,2.5,3.75,5,6.25,7.5,8.75,10,11.25,12.5], "labels": false, "title": null}}, "y": {"field": "k", "type": "quantitative", "scale": {"domain": [0, 17.4], "nice": false, "zero": false}, "axis": {"orient": "right", "tickCount": 40, "values": [0,2.5,5,7.5,10,12.5,15], "labelFontSize": 18, "labelOverlap": false, "labelExpr": "round(datum.value/2.5) % 2 == 0 ? format(datum.value, 'd') : ''", "title": null}}}}
 ],
 "resolve": {"scale": {"y": "independent"}, "axis": {"x": "independent"}}
},
{
 "width": 390, "height": 130,
 "layer": [
  {"layer": [
   {"data": {"values": [{}]}, "mark": {"type": "rule", "strokeDash": [7, 4], "strokeWidth": 1.5, "color": "black"}, "encoding": {"x": {"datum": 0, "type": "quantitative", "scale": {"domain": [-7.5, 12.5], "nice": false, "zero": false}, "axis": {"orient": "bottom", "tickCount": 40, "values": [-7.5,-6.25,-5,-3.75,-2.5,-1.25,0,1.25,2.5,3.75,5,6.25,7.5,8.75,10,11.25,12.5], "labelOverlap": false, "labelExpr": "datum.value == 0 ? '-0.0' : datum.value == 2.5 ? '-2.5' : datum.value == -7.5 ? '-7.5' : datum.value == -5 ? '-5.0' : datum.value == -2.5 ? '-2.5' : datum.value == 5 ? '5.0' : datum.value == 7.5 ? '7.5' : datum.value == 10 ? '10.0' : datum.value == 12.5 ? '12.5' : ''", "titleFontSize": 22, "titlePadding": 4, "title": "Auger-electron kinetic energy (eV)"}}}},
   {"data": {"name": "apecs"}, "transform": [{"filter": "datum.panel == 'a'"}], "mark": {"type": "line", "color": "black", "strokeWidth": 1.5, "clip": true}, "encoding": {"x": {"field": "x", "type": "quantitative"}, "y": {"field": "v", "type": "quantitative", "scale": {"domain": [0, 1.94], "nice": false, "zero": false}, "axis": {"orient": "left", "tickCount": 40, "values": [0,0.25,0.5,0.75,1,1.25,1.5,1.75], "labelOverlap": false, "labelExpr": "round(datum.value*4) % 2 == 0 ? format(datum.value, '.1f') : ''", "title": null}}}},
   {"data": {"name": "apecs"}, "transform": [{"filter": "datum.panel == 'a'"}], "mark": {"type": "errorbar", "ticks": true, "color": "black", "thickness": 1.5, "size": 7, "clip": true}, "encoding": {"x": {"field": "x", "type": "quantitative"}, "y": {"field": "v", "type": "quantitative"}, "yError": {"field": "e"}}},
   {"data": {"name": "apecs"}, "transform": [{"filter": "datum.panel == 'a'"}], "mark": {"type": "point", "shape": "square", "filled": true, "size": 45, "color": "black", "opacity": 1, "clip": true}, "encoding": {"x": {"field": "x", "type": "quantitative"}, "y": {"field": "v", "type": "quantitative"}}},
   {"data": {"values": [{}]}, "mark": {"type": "rule", "color": "black", "strokeWidth": 1.2}, "encoding": {"x": {"datum": 1.7, "type": "quantitative"}, "x2": {"datum": 4.4}, "y": {"datum": 0.99, "type": "quantitative"}, "y2": {"datum": 0}}},
   {"data": {"values": [{}]}, "mark": {"type": "rule", "color": "black", "strokeWidth": 1.5}, "encoding": {"x": {"datum": 2.3, "type": "quantitative"}, "x2": {"datum": 4.2}, "y": {"datum": 0.303, "type": "quantitative"}, "y2": {"datum": 0.041}}},
   {"data": {"values": [{}]}, "mark": {"type": "point", "shape": "triangle-right", "angle": 25, "filled": true, "size": 60, "color": "black", "opacity": 1}, "encoding": {"x": {"datum": 4.2, "type": "quantitative"}, "y": {"datum": 0.041, "type": "quantitative"}}},
   {"data": {"values": [{}]}, "mark": {"type": "text", "font": "Liberation Serif", "text": "+4.40 eV", "align": "left", "fontSize": 20, "fontWeight": "bold"}, "encoding": {"x": {"datum": 0.05, "type": "quantitative"}, "y": {"datum": 0.378, "type": "quantitative"}}},
   {"data": {"values": [{}]}, "mark": {"type": "rule", "color": "black", "strokeWidth": 1.5}, "encoding": {"x": {"datum": 3.95, "type": "quantitative"}, "x2": {"datum": 6.05}, "y": {"datum": 1.716, "type": "quantitative"}}},
   {"data": {"values": [{}]}, "mark": {"type": "point", "shape": "square", "filled": true, "size": 45, "color": "black", "opacity": 1}, "encoding": {"x": {"datum": 5.0, "type": "quantitative"}, "y": {"datum": 1.716, "type": "quantitative"}}},
   {"data": {"values": [{}]}, "mark": {"type": "rule", "color": "black", "strokeWidth": 1.5}, "encoding": {"x": {"datum": 4.05, "type": "quantitative"}, "x2": {"datum": 6.05}, "y": {"datum": 0.612, "type": "quantitative"}}},
   {"data": {"values": [{}]}, "mark": {"type": "text", "font": "Liberation Serif", "text": "(a)", "align": "left", "fontSize": 20}, "encoding": {"x": {"datum": -7.1, "type": "quantitative"}, "y": {"datum": 1.59, "type": "quantitative"}}},
   {"data": {"values": [{}]}, "mark": {"type": "text", "font": "Liberation Serif", "text": "APECS with", "align": "left"}, "encoding": {"x": {"datum": 6.25, "type": "quantitative"}, "y": {"datum": 1.716, "type": "quantitative"}}},
   {"data": {"values": [{}]}, "mark": {"type": "text", "font": "Liberation Serif", "text": "photoelectrons at", "align": "center"}, "encoding": {"x": {"datum": 7.63, "type": "quantitative"}, "y": {"datum": 1.373, "type": "quantitative"}}},
   {"data": {"values": [{}]}, "mark": {"type": "text", "font": "Liberation Serif", "text": "relative", "align": "left"}, "encoding": {"x": {"datum": 3.32, "type": "quantitative"}, "y": {"datum": 1.045, "type": "quantitative"}}},
   {"data": {"values": [{}]}, "mark": {"type": "text", "font": "Liberation Serif", "text": "BE", "align": "left", "fontStyle": "italic", "dx": 58.5}, "encoding": {"x": {"datum": 3.32, "type": "quantitative"}, "y": {"datum": 1.045, "type": "quantitative"}}},
   {"data": {"values": [{}]}, "mark": {"type": "text", "font": "Liberation Serif", "text": "of +0.25 eV", "align": "left", "dx": 85}, "encoding": {"x": {"datum": 3.32, "type": "quantitative"}, "y": {"datum": 1.045, "type": "quantitative"}}},
   {"data": {"values": [{}]}, "mark": {"type": "text", "font": "Liberation Serif", "text": "Singles AES", "align": "left"}, "encoding": {"x": {"datum": 6.3, "type": "quantitative"}, "y": {"datum": 0.612, "type": "quantitative"}}}
  ]},
  {"data": {"name": "aes"}, "transform": [{"filter": "datum.panel == 'a'"}], "mark": {"type": "line", "color": "black", "strokeWidth": 1.5, "interpolate": "monotone", "clip": true}, "encoding": {"x": {"field": "x", "type": "quantitative", "scale": {"domain": [-7.5, 12.5], "nice": false, "zero": false}, "axis": {"orient": "top", "tickCount": 40, "values": [-7.5,-6.25,-5,-3.75,-2.5,-1.25,0,1.25,2.5,3.75,5,6.25,7.5,8.75,10,11.25,12.5], "labels": false, "title": null}}, "y": {"field": "k", "type": "quantitative", "scale": {"domain": [0, 11.7], "nice": false, "zero": false}, "axis": {"orient": "right", "tickCount": 40, "values": [0,2.5,5,7.5,10], "labelFontSize": 18, "labelOverlap": false, "labelExpr": "round(datum.value/2.5) % 2 == 0 ? format(datum.value, 'd') : ''", "title": null}}}}
 ],
 "resolve": {"scale": {"y": "independent"}, "axis": {"x": "independent"}}
}
]
}
